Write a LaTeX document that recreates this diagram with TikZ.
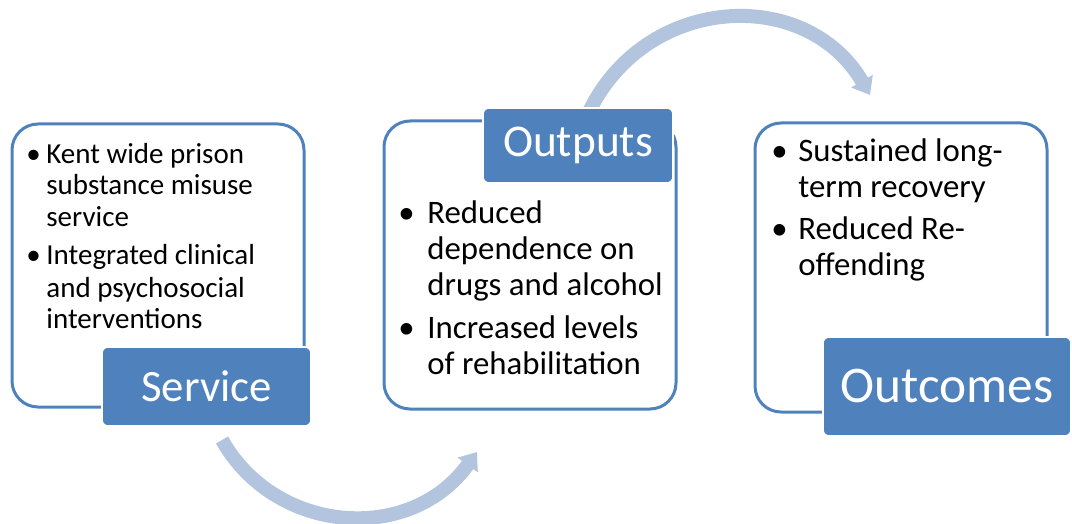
\documentclass[tikz,border=0pt]{standalone}
\usepackage{fontspec}
\setmainfont{Carlito}
\usetikzlibrary{arrows.meta}

\definecolor{boxblue}{HTML}{4F81BD}
\definecolor{flowblue}{HTML}{B3C4DE}

\tikzset{
  panel/.style={draw=boxblue, line width=1.5pt, rounded corners=13pt, fill=white, inner sep=0pt},
  tag/.style={fill=boxblue, draw=white, line width=0.8pt, rounded corners=3pt, text=white, inner sep=0pt},
  bullets/.style={anchor=base west, inner sep=0pt, align=left},
  flow/.style={draw=flowblue, line width=7pt, -{Triangle[length=8pt,width=12pt]}}
}

\newcommand{\bul}[1]{\makebox[#1][l]{\textbullet}}

\begin{document}
\begin{tikzpicture}[x=0.5pt, y=-0.5pt]
      \useasboundingbox (0,0) rectangle (1072,524);

      % arrows between the steps
      \coordinate (flowastart) at (222,440);
      \coordinate (flowaend) at (477,452);
      \coordinate (flowbstart) at (588,114);
      \coordinate (flowbend) at (870,95);

      \draw[flow] (flowastart) .. controls (275,534) and (410,545) .. (flowaend);
      \draw[flow] (flowbstart) .. controls (644,-6) and (806,-15) .. (flowbend);

      \node[panel, minimum width=146pt, minimum height=141.5pt] (servicebox) at (158,265.5) {};
      \node[panel, minimum width=146pt, minimum height=144pt] (outputsbox) at (530,265) {};
      \node[panel, minimum width=146pt, minimum height=144.5pt] (outcomesbox) at (901,267.5) {};

      \node[bullets, font=\fontsize{14.5}{16}\selectfont] (servicetext) at (26,163) {%
        \begin{tabular}[t]{@{}l@{}l@{}}
          \bul{10pt} & Kent wide prison\\
                     & substance misuse\\
                     & service\\[3pt]
          \bul{10pt} & Integrated clinical\\
                     & and psychosocial\\
                     & interventions
        \end{tabular}};

      \node[bullets, font=\fontsize{16.4}{18}\selectfont] (outputstext) at (398,223) {%
        \begin{tabular}[t]{@{}l@{}l@{}}
          \bul{14.5pt} & Reduced\\
                       & dependence on\\
                       & drugs and alcohol\\[4pt]
          \bul{14.5pt} & Increased levels\\
                       & of rehabilitation
        \end{tabular}};

      \node[bullets, font=\fontsize{16.4}{18}\selectfont] (outcomestext) at (771,162) {%
        \begin{tabular}[t]{@{}l@{}l@{}}
          \bul{13.5pt} & Sustained long-\\
                       & term recovery\\[3pt]
          \bul{13.5pt} & Reduced Re-\\
                       & offending
        \end{tabular}};

      \node[tag, minimum width=104.5pt, minimum height=39.5pt, font=\fontsize{22.4}{26}\selectfont] (service) at (206.5,386.5) {Service};
      \node[tag, minimum width=95pt, minimum height=37.5pt, font=\fontsize{22.7}{26}\selectfont] (outputs) at (578,145.5) {Outputs};
      \node[tag, minimum width=124pt, minimum height=49.5pt, font=\fontsize{25.7}{30}\selectfont] (outcomes) at (947,386.5) {Outcomes};
\end{tikzpicture}
\end{document}
